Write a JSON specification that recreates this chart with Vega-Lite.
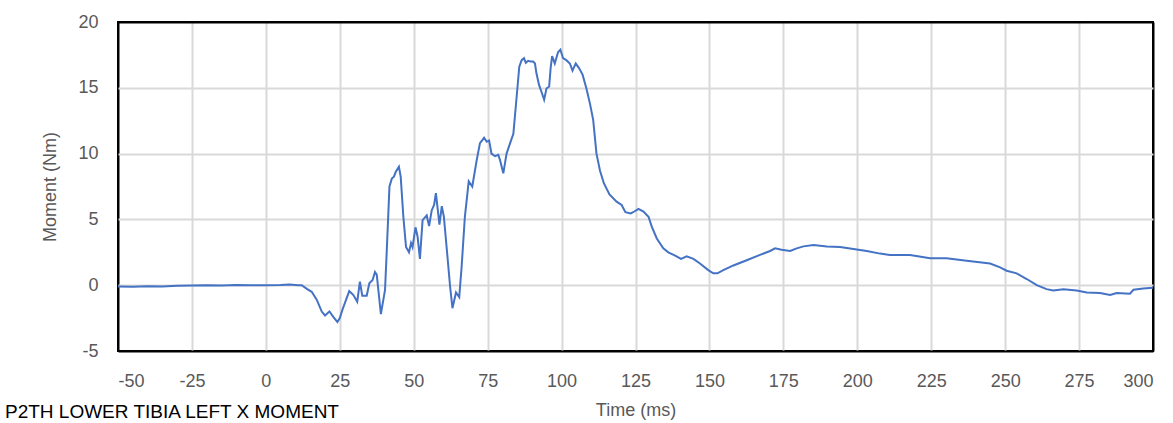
{
  "$schema": "https://vega.github.io/schema/vega-lite/v6.json",
  "width": 1035,
  "height": 329,
  "autosize": {"type": "none"},
  "padding": {"left": 118, "top": 22, "right": 20, "bottom": 72},
  "background": "white",
  "title": {
    "text": "P2TH LOWER TIBIA LEFT X MOMENT",
    "orient": "bottom",
    "anchor": "start",
    "frame": "group",
    "dx": -113,
    "dy": -20,
    "font": "Liberation Sans",
    "fontSize": 19,
    "fontWeight": "normal",
    "color": "#000000"
  },
  "config": {
    "view": {"stroke": "#000000", "strokeWidth": 2},
    "axis": {
      "labelFont": "Liberation Sans",
      "labelFontSize": 18,
      "labelColor": "#595959",
      "titleFont": "Liberation Sans",
      "titleFontSize": 18,
      "titleFontWeight": "normal",
      "titleColor": "#595959",
      "gridWidth": 2,
      "domain": false,
      "ticks": false,
      "labelExpr": "datum.value + ''"
    }
  },
  "data": {
    "values": [
      {"t": -50, "m": -0.1}, {"t": -45, "m": -0.12}, {"t": -40, "m": -0.08}, {"t": -35, "m": -0.1},
      {"t": -30, "m": -0.05}, {"t": -25, "m": -0.03}, {"t": -20, "m": 0.0}, {"t": -15, "m": -0.02},
      {"t": -10, "m": 0.02}, {"t": -5, "m": 0.0}, {"t": 0, "m": 0.0}, {"t": 5, "m": 0.02},
      {"t": 8, "m": 0.05}, {"t": 11, "m": 0.0}, {"t": 12.1, "m": 0.0}, {"t": 14, "m": -0.3},
      {"t": 15.5, "m": -0.5}, {"t": 17.2, "m": -1.1}, {"t": 18.9, "m": -2.0}, {"t": 20.0, "m": -2.3},
      {"t": 21.5, "m": -2.0}, {"t": 22.8, "m": -2.4}, {"t": 24.2, "m": -2.8}, {"t": 25.0, "m": -2.5},
      {"t": 26.0, "m": -1.8}, {"t": 26.9, "m": -1.25}, {"t": 28.2, "m": -0.45}, {"t": 29.6, "m": -0.75},
      {"t": 30.9, "m": -1.25}, {"t": 31.8, "m": 0.27}, {"t": 32.6, "m": -0.8}, {"t": 34.1, "m": -0.8},
      {"t": 35.0, "m": 0.15}, {"t": 36.1, "m": 0.4}, {"t": 36.9, "m": 1.0}, {"t": 37.5, "m": 0.8},
      {"t": 38.9, "m": -2.2}, {"t": 40.3, "m": -0.36}, {"t": 40.9, "m": 2.7}, {"t": 41.8, "m": 7.5},
      {"t": 42.6, "m": 8.1}, {"t": 43.3, "m": 8.25}, {"t": 43.9, "m": 8.6}, {"t": 45.0, "m": 9.0},
      {"t": 45.6, "m": 8.25}, {"t": 46.5, "m": 5.2}, {"t": 47.4, "m": 2.9}, {"t": 48.4, "m": 2.5},
      {"t": 49.1, "m": 3.2}, {"t": 49.6, "m": 2.9}, {"t": 50.6, "m": 4.4}, {"t": 51.3, "m": 3.7},
      {"t": 52.1, "m": 2.0}, {"t": 53.0, "m": 4.95}, {"t": 54.4, "m": 5.3}, {"t": 55.2, "m": 4.5},
      {"t": 56.1, "m": 5.7}, {"t": 56.9, "m": 6.1}, {"t": 57.5, "m": 7.0}, {"t": 58.7, "m": 4.6},
      {"t": 59.5, "m": 6.0}, {"t": 60.2, "m": 5.2}, {"t": 61.4, "m": 2.2}, {"t": 62.3, "m": -0.1},
      {"t": 63.1, "m": -1.75}, {"t": 64.3, "m": -0.55}, {"t": 65.4, "m": -0.9}, {"t": 66.2, "m": 1.4},
      {"t": 67.3, "m": 5.2}, {"t": 68.6, "m": 7.9}, {"t": 69.8, "m": 7.5}, {"t": 71.3, "m": 9.5},
      {"t": 72.4, "m": 10.8}, {"t": 73.8, "m": 11.2}, {"t": 74.7, "m": 10.9}, {"t": 75.5, "m": 11.0},
      {"t": 76.3, "m": 10.0}, {"t": 77.5, "m": 9.8}, {"t": 78.6, "m": 9.9}, {"t": 79.2, "m": 9.5},
      {"t": 80.3, "m": 8.5}, {"t": 81.4, "m": 10.0}, {"t": 82.6, "m": 10.8}, {"t": 83.7, "m": 11.5},
      {"t": 84.8, "m": 14.3}, {"t": 85.7, "m": 16.6}, {"t": 86.5, "m": 17.1}, {"t": 87.3, "m": 17.25},
      {"t": 87.9, "m": 16.9}, {"t": 88.7, "m": 17.05}, {"t": 89.5, "m": 17.0}, {"t": 90.4, "m": 17.0},
      {"t": 91.0, "m": 16.85}, {"t": 91.5, "m": 16.1}, {"t": 92.4, "m": 15.2}, {"t": 93.2, "m": 14.7},
      {"t": 94.1, "m": 14.1}, {"t": 94.9, "m": 14.95}, {"t": 95.8, "m": 15.1}, {"t": 96.3, "m": 16.5},
      {"t": 96.8, "m": 17.4}, {"t": 97.7, "m": 16.85}, {"t": 98.8, "m": 17.7}, {"t": 99.6, "m": 17.9},
      {"t": 100.5, "m": 17.25}, {"t": 101.6, "m": 17.1}, {"t": 102.8, "m": 16.85}, {"t": 103.7, "m": 16.3},
      {"t": 104.8, "m": 16.85}, {"t": 105.9, "m": 16.5}, {"t": 107.1, "m": 16.0}, {"t": 108.4, "m": 14.95},
      {"t": 109.6, "m": 13.8}, {"t": 110.7, "m": 12.55}, {"t": 111.8, "m": 10.0}, {"t": 113.0, "m": 8.7},
      {"t": 114.3, "m": 7.75}, {"t": 116.2, "m": 6.9}, {"t": 118.6, "m": 6.35}, {"t": 120.3, "m": 6.1},
      {"t": 121.6, "m": 5.55}, {"t": 123.4, "m": 5.45}, {"t": 124.6, "m": 5.6}, {"t": 126.0, "m": 5.8},
      {"t": 127.7, "m": 5.6}, {"t": 129.4, "m": 5.2}, {"t": 130.5, "m": 4.45}, {"t": 132.2, "m": 3.55},
      {"t": 134.4, "m": 2.8}, {"t": 136.1, "m": 2.5}, {"t": 138.4, "m": 2.25}, {"t": 140.4, "m": 2.0},
      {"t": 142.3, "m": 2.2}, {"t": 144.6, "m": 2.0}, {"t": 146.8, "m": 1.65}, {"t": 149.6, "m": 1.15},
      {"t": 151.3, "m": 0.9}, {"t": 152.7, "m": 0.9}, {"t": 154.7, "m": 1.15}, {"t": 158.1, "m": 1.5},
      {"t": 162.6, "m": 1.9}, {"t": 167.1, "m": 2.3}, {"t": 170.5, "m": 2.6}, {"t": 172.2, "m": 2.8},
      {"t": 174.4, "m": 2.7}, {"t": 177.3, "m": 2.6}, {"t": 179.5, "m": 2.8}, {"t": 181.8, "m": 2.95},
      {"t": 185.2, "m": 3.05}, {"t": 189.7, "m": 2.95}, {"t": 194.2, "m": 2.9}, {"t": 198.7, "m": 2.75},
      {"t": 203.2, "m": 2.6}, {"t": 207.7, "m": 2.4}, {"t": 211.0, "m": 2.3}, {"t": 217.8, "m": 2.3},
      {"t": 224.6, "m": 2.05}, {"t": 230.2, "m": 2.05}, {"t": 237.0, "m": 1.85}, {"t": 244.9, "m": 1.65},
      {"t": 248.3, "m": 1.35}, {"t": 250.5, "m": 1.1}, {"t": 253.9, "m": 0.9}, {"t": 257.3, "m": 0.47},
      {"t": 260.7, "m": 0.0}, {"t": 264.0, "m": -0.3}, {"t": 266.3, "m": -0.4}, {"t": 269.7, "m": -0.3},
      {"t": 274.2, "m": -0.4}, {"t": 277.6, "m": -0.55}, {"t": 282.1, "m": -0.6}, {"t": 285.5, "m": -0.75},
      {"t": 287.7, "m": -0.6}, {"t": 292.2, "m": -0.65}, {"t": 293.4, "m": -0.35}, {"t": 296.7, "m": -0.25},
      {"t": 300, "m": -0.2}
    ]
  },
  "mark": {"type": "line", "color": "#4472C4", "strokeWidth": 2},
  "encoding": {
    "x": {
      "field": "t",
      "type": "quantitative",
      "scale": {"domain": [-50, 300], "nice": false, "zero": false},
      "axis": {
        "title": "Time (ms)",
        "values": [-50, -25, 0, 25, 50, 75, 100, 125, 150, 175, 200, 225, 250, 275, 300],
        "labelPadding": 21,
        "titlePadding": 11,
        "gridColor": {"condition": {"test": "datum.value === -50 || datum.value === 300", "value": "#000000"}, "value": "#d9d9d9"}
      }
    },
    "y": {
      "field": "m",
      "type": "quantitative",
      "scale": {"domain": [-5, 20], "nice": false, "zero": false},
      "axis": {
        "title": "Moment (Nm)",
        "values": [-5, 0, 5, 10, 15, 20],
        "labelPadding": 20,
        "titlePadding": 18,
        "gridColor": {"condition": {"test": "datum.value === -5 || datum.value === 20", "value": "#000000"}, "value": "#d9d9d9"}
      }
    }
  }
}
